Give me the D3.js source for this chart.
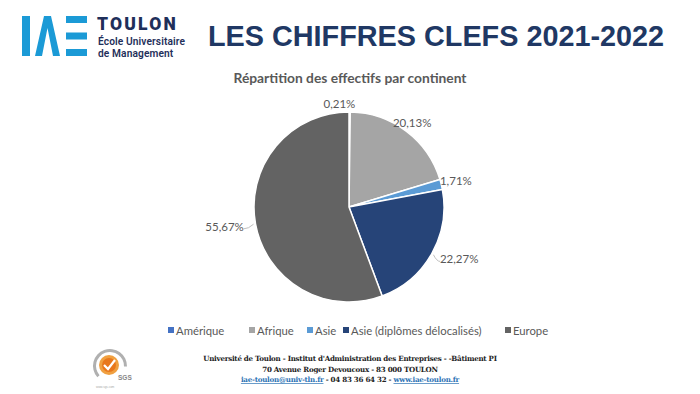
<!DOCTYPE html>
<html><head><meta charset="utf-8">
<script src="https://cdn.jsdelivr.net/npm/d3@7"></script>
<style>
html,body{margin:0;padding:0;background:#fff;}
svg{display:block;}
</style></head>
<body>
<svg id="c" width="700" height="394"></svg>
<script>
// ---- data ----
const categories = ["Amérique", "Afrique", "Asie", "Asie (diplômes délocalisés)", "Europe"];
const values = [0.21, 20.13, 1.71, 22.27, 55.67];
const valueLabels = ["0,21%", "20,13%", "1,71%", "22,27%", "55,67%"];
const colors = ["#4472c4", "#a5a5a5", "#5b9bd5", "#264478", "#636363"];
const footerLines = [
  "Université de Toulon - Institut d'Administration des Entreprises - -Bâtiment PI",
  "70 Avenue Roger Devoucoux - 83 000 TOULON"
];

// ---- layout ----
const svg = d3.select("#c");
const cx = 349, cy = 207, R = 95;
const labelRadius = [103, 105, 110, 122, 126];
const labelAngleShift = [-0.1, 0, 0, -0.07, 0.02];

// Logo
const logoBlue = "#1b9ad6", navy = "#1f2f5a";
const logo = svg.append("g");
logo.append("rect").attr("x", 22).attr("y", 16).attr("width", 8).attr("height", 40).attr("fill", logoBlue);
logo.append("path").attr("d", "M35,56 L44,16 L51,16 L60,56 L53,56 L47.5,28 L42,56 Z").attr("fill", logoBlue);
[16, 32.5, 49].forEach(y => logo.append("rect").attr("x", 66).attr("y", y).attr("width", 21).attr("height", 7).attr("fill", logoBlue));
logo.append("text").attr("x", 97).attr("y", 29.5).attr("font-family", "Roboto, Arial, sans-serif")
  .attr("font-weight", 900).attr("font-size", 17.5).attr("fill", navy).attr("letter-spacing", 2.2).text("TOULON");
logo.append("text").attr("x", 98).attr("y", 45).attr("font-family", "Roboto, Arial, sans-serif")
  .attr("font-weight", 600).attr("font-size", 10.2).attr("fill", navy).attr("letter-spacing", 0.1).text("École Universitaire");
logo.append("text").attr("x", 98).attr("y", 57).attr("font-family", "Roboto, Arial, sans-serif")
  .attr("font-weight", 600).attr("font-size", 10.2).attr("fill", navy).attr("letter-spacing", 0.1).text("de Management");

// Title
svg.append("text").attr("x", 208).attr("y", 46).attr("font-family", "Liberation Sans, Arial, sans-serif")
  .attr("font-weight", "bold").attr("font-size", 28.8).attr("fill", "#203864")
  .text("LES CHIFFRES CLEFS 2021-2022");

// Chart title
svg.append("text").attr("x", 350).attr("y", 83).attr("text-anchor", "middle")
  .attr("font-family", "Lato, 'Open Sans', sans-serif").attr("font-weight", "bold")
  .attr("font-size", 13.8).attr("fill", "#595959").text("Répartition des effectifs par continent");

// Pie
const pie = d3.pie().sort(null).value(d => d)(values);
const arc = d3.arc().innerRadius(0).outerRadius(R);
const g = svg.append("g").attr("transform", `translate(${cx},${cy})`);
g.selectAll("path.slice").data(pie).join("path").attr("class", "slice")
  .attr("d", arc).attr("fill", (d, i) => colors[i])
  .attr("stroke", "#fff").attr("stroke-width", 1.5).attr("stroke-linejoin", "round");

// Labels
pie.forEach((d, i) => {
  const a = (d.startAngle + d.endAngle) / 2 + labelAngleShift[i];
  const lr = labelRadius[i];
  const x = lr * Math.sin(a), y = -lr * Math.cos(a);
  g.append("text").attr("x", x).attr("y", y).attr("text-anchor", "middle").attr("dy", "0.35em")
    .attr("font-family", "Lato, 'Open Sans', sans-serif").attr("font-size", 11.5).attr("fill", "#595959")
    .text(valueLabels[i]);
  if (lr > 115) {
    const am = (d.startAngle + d.endAngle) / 2;
    const ex = (R + 2) * Math.sin(am), ey = -(R + 2) * Math.cos(am);
    const side = Math.sin(a) > 0 ? 1 : -1;
    const tx = x - side * 19, ty = y + 2;
    g.append("path").attr("d", `M${ex},${ey} Q${(ex + tx) / 2},${ty} ${tx},${ty}`)
      .attr("fill", "none").attr("stroke", "#bfbfbf").attr("stroke-width", 1);
  }
});

// Legend
const legendX = [168, 249, 307, 343, 505];
const lg = svg.append("g");
categories.forEach((c, i) => {
  lg.append("rect").attr("x", legendX[i]).attr("y", 327).attr("width", 6).attr("height", 6).attr("fill", colors[i]);
  lg.append("text").attr("x", legendX[i] + 8).attr("y", 334.5)
    .attr("font-family", "Lato, 'Open Sans', sans-serif").attr("font-size", 11.3).attr("fill", "#595959").text(c);
});

// Footer
const ff = "'DejaVu Serif', 'Liberation Serif', serif";
footerLines.forEach((t, i) => {
  svg.append("text").attr("x", 350).attr("y", 361 + i * 10.5).attr("text-anchor", "middle")
    .attr("font-family", ff).attr("font-weight", "bold").attr("font-size", 7.1).attr("fill", "#222")
    .attr("letter-spacing", -0.25).text(t);
});
const f3 = svg.append("text").attr("x", 350).attr("y", 382).attr("text-anchor", "middle")
  .attr("font-family", ff).attr("font-weight", "bold").attr("font-size", 7.1).attr("fill", "#222").attr("letter-spacing", -0.25);
f3.append("tspan").attr("fill", "#2e74b5").attr("text-decoration", "underline").text("iae-toulon@univ-tln.fr");
f3.append("tspan").text(" - 04 83 36 64 32 - ");
f3.append("tspan").attr("fill", "#2e74b5").attr("text-decoration", "underline").text("www.iae-toulon.fr");

// SGS certification badge
const b = svg.append("g");
b.append("path").attr("d", d3.arc().innerRadius(14).outerRadius(17).startAngle(-2.3).endAngle(1.6)())
  .attr("transform", "translate(110,366)").attr("fill", "#b0b0b0");
b.append("circle").attr("cx", 109).attr("cy", 365).attr("r", 10).attr("fill", "#f0a040");
b.append("circle").attr("cx", 109).attr("cy", 365).attr("r", 7).attr("fill", "#e8771c");
b.append("path").attr("d", "M104,365 L108,369 L115,360").attr("fill", "none").attr("stroke", "#fff").attr("stroke-width", 2.2);
b.append("text").attr("x", 118).attr("y", 380).attr("font-family", "Liberation Sans, Arial").attr("font-size", 6.5)
  .attr("font-weight", "bold").attr("fill", "#888").text("SGS");
b.append("text").attr("x", 96).attr("y", 388).attr("font-family", "Liberation Sans, Arial").attr("font-size", 3)
  .attr("fill", "#aaa").text("www.sgs.com");
</script>
</body></html>
